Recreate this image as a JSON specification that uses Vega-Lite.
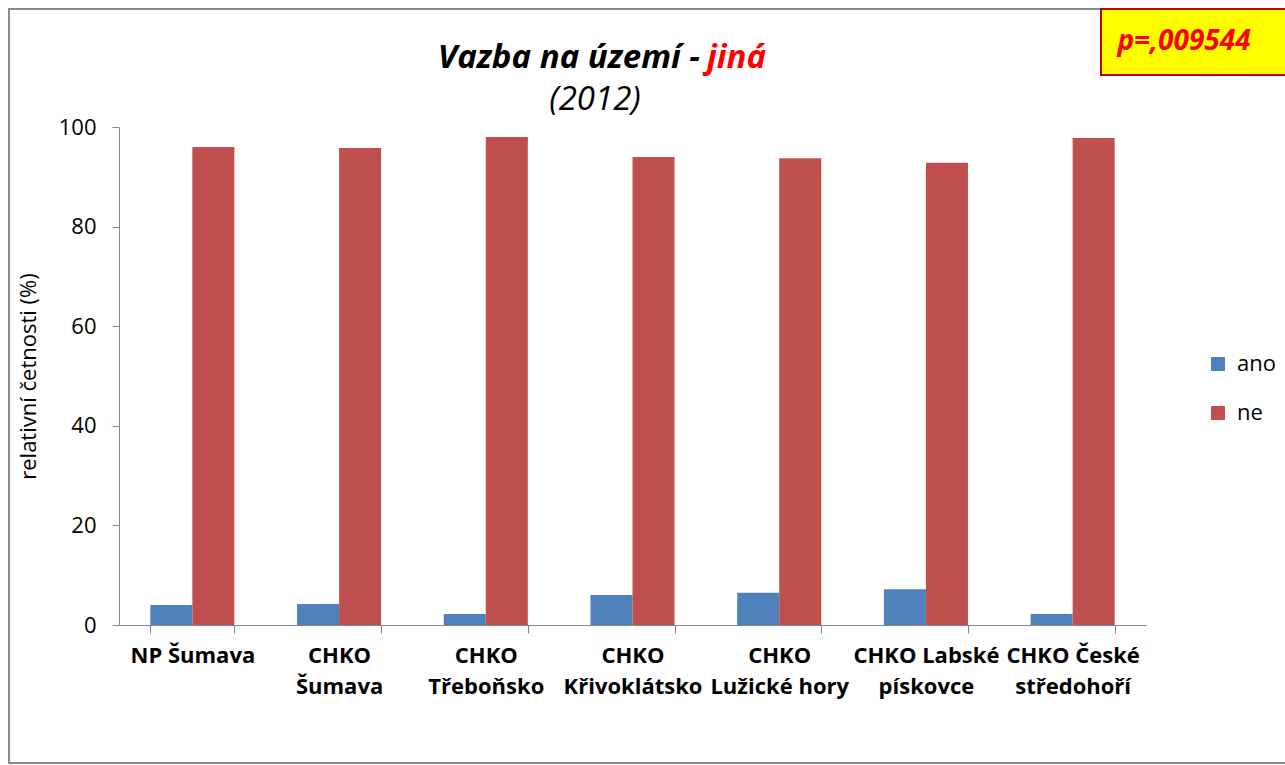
{
  "$schema": "https://vega.github.io/schema/vega-lite/v6.json",
  "autosize": "none",
  "width": 1027,
  "height": 498,
  "padding": {"left": 119, "top": 127, "right": 139, "bottom": 140},
  "background": "white",
  "config": {
    "view": {"stroke": null},
    "font": "Open Sans",
    "axis": {"domainColor": "#868686", "tickColor": "#868686", "grid": false, "labelColor": "#000000", "titleColor": "#000000", "labelFont": "Open Sans", "titleFont": "Open Sans"}
  },
  "layer": [
    {
      "data": {"values": [{}]},
      "mark": {"type": "rect", "fill": null, "stroke": "#8c8c8c", "strokeWidth": 2, "clip": false},
      "encoding": {"x": {"value": -110}, "x2": {"value": 1180}, "y": {"value": -118}, "y2": {"value": 636}}
    },
    {
      "data": {"values": [
        {"oblast": "NP Šumava", "odpoved": "ano", "procento": 4.0},
        {"oblast": "NP Šumava", "odpoved": "ne", "procento": 96.0},
        {"oblast": "CHKO Šumava", "odpoved": "ano", "procento": 4.2},
        {"oblast": "CHKO Šumava", "odpoved": "ne", "procento": 95.8},
        {"oblast": "CHKO Třeboňsko", "odpoved": "ano", "procento": 2.2},
        {"oblast": "CHKO Třeboňsko", "odpoved": "ne", "procento": 98.0},
        {"oblast": "CHKO Křivoklátsko", "odpoved": "ano", "procento": 6.0},
        {"oblast": "CHKO Křivoklátsko", "odpoved": "ne", "procento": 94.0},
        {"oblast": "CHKO Lužické hory", "odpoved": "ano", "procento": 6.5},
        {"oblast": "CHKO Lužické hory", "odpoved": "ne", "procento": 93.7},
        {"oblast": "CHKO Labské pískovce", "odpoved": "ano", "procento": 7.2},
        {"oblast": "CHKO Labské pískovce", "odpoved": "ne", "procento": 92.8},
        {"oblast": "CHKO České středohoří", "odpoved": "ano", "procento": 2.2},
        {"oblast": "CHKO České středohoří", "odpoved": "ne", "procento": 97.8}
      ]},
      "mark": {"type": "bar"},
      "encoding": {
        "x": {
          "field": "oblast", "type": "nominal", "sort": null,
          "scale": {"paddingInner": 0.427, "paddingOuter": 0.2135},
          "axis": {
            "title": null, "labelAngle": 0, "tickBand": "extent", "tickSize": 8,
            "labelFontSize": 22, "labelFontWeight": "bold", "labelPadding": 12, "labelLineHeight": 31,
            "labelLimit": 0,
            "labelExpr": "!isString(datum.value) ? '' : datum.value == 'NP Šumava' ? datum.value : test(/Labské|České/, datum.value) ? [join(slice(split(datum.value, ' '), 0, 2), ' '), join(slice(split(datum.value, ' '), 2), ' ')] : ['CHKO', substring(datum.value, 5)]"
          }
        },
        "xOffset": {"field": "odpoved", "type": "nominal", "scale": {"paddingInner": 0, "paddingOuter": 0}},
        "y": {
          "field": "procento", "type": "quantitative",
          "scale": {"domain": [0, 100]},
          "axis": {
            "title": "relativní četnosti (%)", "titleFontSize": 22, "titleFontWeight": "normal", "titlePadding": 18,
            "values": [0, 20, 40, 60, 80, 100], "labelFontSize": 22, "labelPadding": 16, "tickSize": 7
          }
        },
        "color": {
          "field": "odpoved", "type": "nominal",
          "scale": {"domain": ["ano", "ne"], "range": ["#4F81BD", "#C0504D"]},
          "legend": {
            "title": null, "orient": "none", "legendX": 1088, "legendY": 226,
            "symbolType": "square", "symbolSize": 196, "symbolStrokeWidth": 0,
            "labelFontSize": 22, "labelFont": "Open Sans", "labelColor": "#000000", "labelOffset": 8, "rowPadding": 27
          }
        }
      }
    },
    {
      "data": {"values": [{}]},
      "mark": {"type": "rect", "fill": "#FFFF00", "stroke": "#C00000", "strokeWidth": 2, "clip": false},
      "encoding": {"x": {"value": 982}, "x2": {"value": 1180}, "y": {"value": -118}, "y2": {"value": -52}}
    },
    {
      "data": {"values": [{}]},
      "mark": {"type": "text", "text": "p=,009544", "font": "Open Sans", "fontSize": 28, "fontWeight": "bold", "fontStyle": "italic", "color": "#FF0000", "align": "center", "baseline": "alphabetic"},
      "encoding": {"x": {"value": 1065}, "y": {"value": -77}}
    },
    {
      "data": {"values": [{}]},
      "mark": {"type": "text", "text": "Vazba na území -", "font": "Open Sans", "fontSize": 33, "fontWeight": "bold", "fontStyle": "italic", "color": "#000000", "align": "right", "baseline": "alphabetic"},
      "encoding": {"x": {"value": 581}, "y": {"value": -59}}
    },
    {
      "data": {"values": [{}]},
      "mark": {"type": "text", "text": "jiná", "font": "Open Sans", "fontSize": 33, "fontWeight": "bold", "fontStyle": "italic", "color": "#FF0000", "align": "left", "baseline": "alphabetic"},
      "encoding": {"x": {"value": 588}, "y": {"value": -59}}
    },
    {
      "data": {"values": [{}]},
      "mark": {"type": "text", "text": "(2012)", "font": "Open Sans", "fontSize": 33, "fontStyle": "italic", "color": "#000000", "align": "center", "baseline": "alphabetic"},
      "encoding": {"x": {"value": 476}, "y": {"value": -17}}
    }
  ]
}
